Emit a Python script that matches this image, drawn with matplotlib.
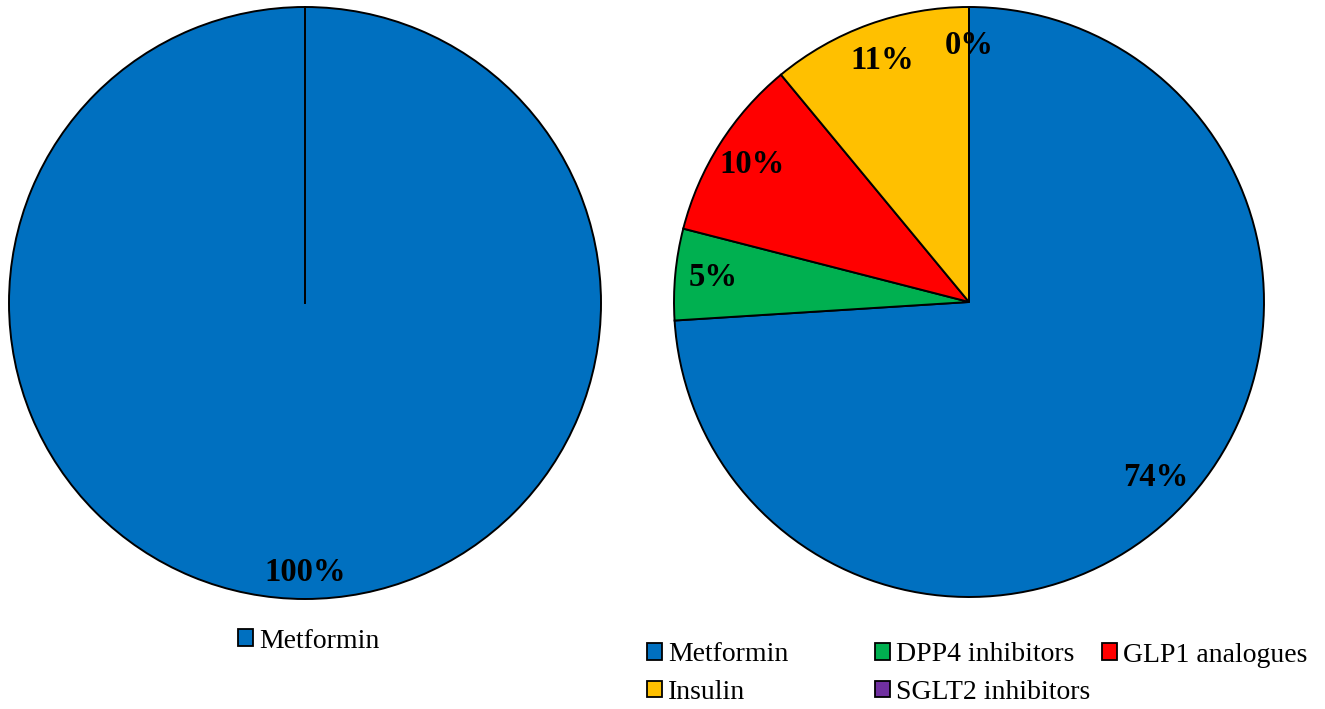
import matplotlib.pyplot as plt
from matplotlib.patches import Patch

plt.rcParams["font.family"] = ["Liberation Serif", "DejaVu Serif"]

# data
left_labels = ["Metformin"]
left_values = [100]

right_labels = ["Metformin", "DPP4 inhibitors", "GLP1 analogues", "Insulin", "SGLT2 inhibitors"]
right_values = [74, 5, 10, 11, 0]

colors = {
    "Metformin": "#0070C0",
    "DPP4 inhibitors": "#00B050",
    "GLP1 analogues": "#FF0000",
    "Insulin": "#FFC000",
    "SGLT2 inhibitors": "#7030A0",
}

W, H = 1325, 709
fig = plt.figure(figsize=(W / 100, H / 100), dpi=100)

PAD = 1.02


def pie_axes(cx, cy, r):
    half = r * PAD
    return fig.add_axes([(cx - half) / W, (H - cy - half) / H, 2 * half / W, 2 * half / H])


wedge_kw = dict(edgecolor="black", linewidth=1.4)
pct_kw = dict(fontsize=23.5, fontweight="bold", color="black")

# left pie
ax = pie_axes(305, 303, 296)
ax.pie(left_values, colors=[colors[l] for l in left_labels], startangle=90,
       counterclock=False, wedgeprops=wedge_kw, autopct=lambda p: f"{p:.0f}%",
       pctdistance=0.91, textprops=pct_kw)
ax.plot([0, 0], [0, 1], color="black", lw=1.4)
ax.set_xlim(-PAD, PAD)
ax.set_ylim(-PAD, PAD)

# right pie
ax2 = pie_axes(969, 302, 295)
ax2.pie(right_values, colors=[colors[l] for l in right_labels], startangle=90,
        counterclock=False, wedgeprops=wedge_kw, autopct=lambda p: f"{p:.0f}%",
        pctdistance=0.87, textprops=pct_kw)
ax2.set_xlim(-PAD, PAD)
ax2.set_ylim(-PAD, PAD)


def square(label):
    return Patch(facecolor=colors[label], edgecolor="black", linewidth=1.3, label=label)


leg_kw = dict(frameon=False, fontsize=20, handlelength=0.55, handleheight=0.55,
              handletextpad=0.2, labelspacing=0.45, borderpad=0, borderaxespad=0,
              loc="center left")

fig.legend(handles=[square("Metformin")], bbox_to_anchor=(238 / W, 1 - 641 / H), **leg_kw)

fig.legend(handles=[square("Metformin"), square("Insulin")],
           bbox_to_anchor=(647 / W, 1 - 673.5 / H), **leg_kw)
fig.legend(handles=[square("DPP4 inhibitors"), square("SGLT2 inhibitors")],
           bbox_to_anchor=(875 / W, 1 - 673.5 / H), **leg_kw)
fig.legend(handles=[square("GLP1 analogues")],
           bbox_to_anchor=(1102 / W, 1 - 655 / H), **leg_kw)

fig.savefig("out.png", dpi=100)
